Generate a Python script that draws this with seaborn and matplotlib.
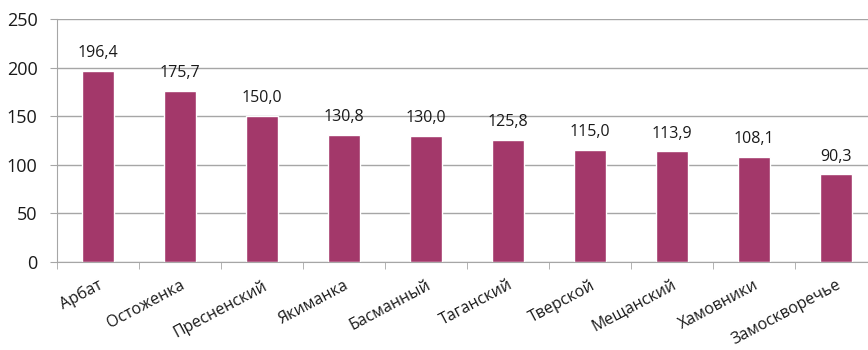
import matplotlib
matplotlib.use("Agg")
import matplotlib.pyplot as plt
import seaborn as sns
import pandas as pd

categories = ["Арбат", "Остоженка", "Пресненский", "Якиманка", "Басманный",
              "Таганский", "Тверской", "Мещанский", "Хамовники", "Замоскворечье"]
values = [196.4, 175.7, 150.0, 130.8, 130.0, 125.8, 115.0, 113.9, 108.1, 90.3]
labels = ["196,4", "175,7", "150,0", "130,8", "130,0", "125,8", "115,0", "113,9", "108,1", "90,3"]

sns.set_style("white")
plt.rcParams['font.family'] = ['Open Sans', 'DejaVu Sans']

df = pd.DataFrame({"cat": categories, "val": values})
fig = plt.figure(figsize=(8.68, 3.5), dpi=100)
ax = fig.add_axes([57/868, 1 - 262/350, 1 - 57/868, (262 - 19)/350])
sns.barplot(data=df, x="cat", y="val", color="#A3386A", width=0.4, saturation=1, ax=ax)

for i, (v, t) in enumerate(zip(values, labels)):
    ax.text(i, v + 10, t, ha="center", va="bottom", fontsize=11.5, color="#1a1a1a")

ax.set_ylim(0, 250)
ax.set_yticks([0, 50, 100, 150, 200, 250])
ax.set_xlim(-0.5, 9.39)
ax.yaxis.grid(True, color="#a6a6a6", linewidth=1)
ax.set_axisbelow(True)
for s in ["top", "right"]:
    ax.spines[s].set_visible(False)
ax.spines["left"].set_color("#a6a6a6")
ax.spines["bottom"].set_color("#a6a6a6")
ax.set_xlabel("")
ax.set_ylabel("")
ax.set_xticks([i - 0.5 for i in range(10)], minor=True)
ax.tick_params(axis="x", which="minor", length=5, color="#a6a6a6", bottom=True)
ax.tick_params(axis="x", which="major", length=0, pad=11)
ax.tick_params(axis="y", length=5, color="#a6a6a6", left=True, labelsize=13, pad=9, labelcolor="#1a1a1a")
ax.set_xticks(range(10))
ax.set_xticklabels(categories, rotation=28, ha="right", rotation_mode="anchor", fontsize=11.5, color="#1a1a1a")
fig.savefig("out.png", dpi=100)
